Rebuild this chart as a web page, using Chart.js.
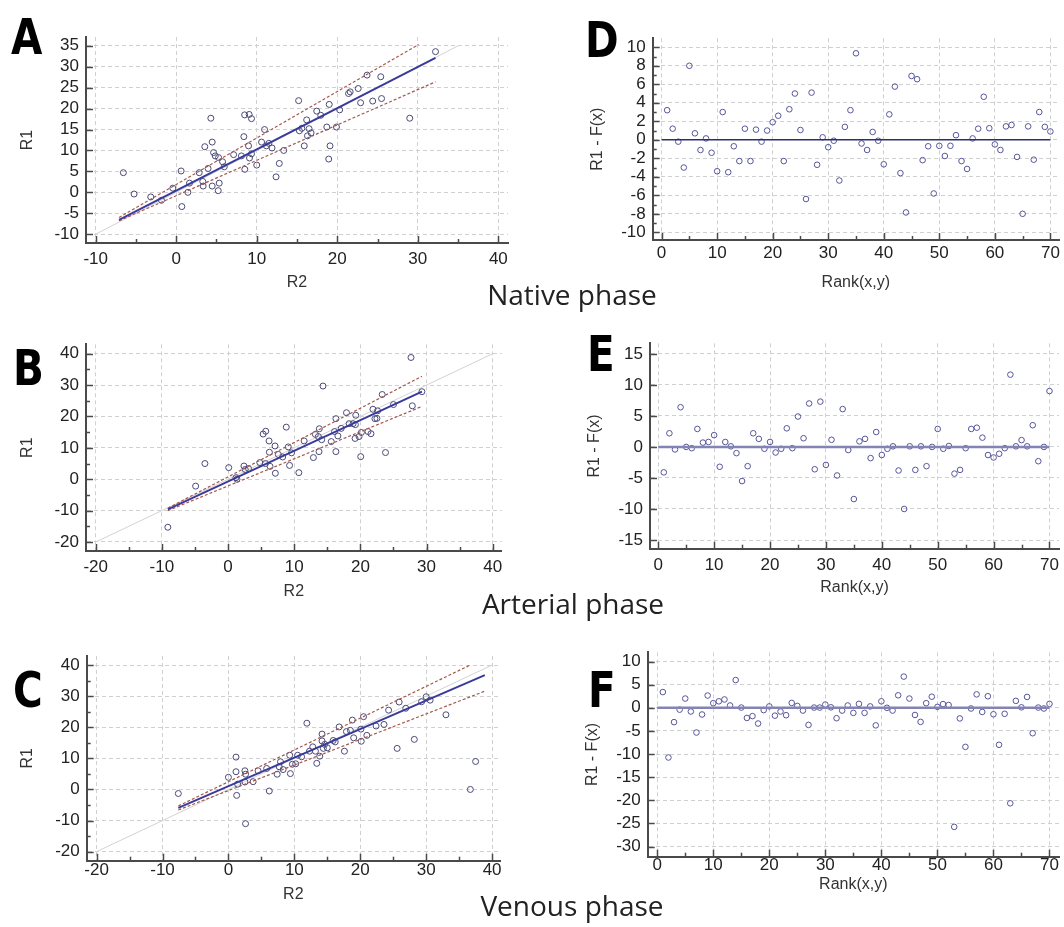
<!DOCTYPE html>
<html>
<head>
<meta charset="utf-8">
<script src="https://cdn.jsdelivr.net/npm/chart.js@4.4.1/dist/chart.umd.min.js"></script>
<style>
body { margin: 0; background: #fff; width: 1064px; height: 927px; position: relative; overflow: hidden; }
canvas { position: absolute; }
.tag { position: absolute; font-family: "DejaVu Sans Condensed", "Liberation Sans Narrow", sans-serif; font-weight: bold; font-size: 50px; line-height: 1; color: #000; transform: scaleX(0.9); transform-origin: left top; }
.phase { position: absolute; font-family: "Open Sans", sans-serif; font-size: 28px; color: #222; transform: translate(-50%, -50%); white-space: nowrap; }
</style>
</head>
<body>
<canvas id="cA"></canvas>
<canvas id="cD"></canvas>
<canvas id="cB"></canvas>
<canvas id="cE"></canvas>
<canvas id="cC"></canvas>
<canvas id="cF"></canvas>
<div class="tag" style="left:11px;top:12px">A</div>
<div class="tag" style="left:585px;top:15px">D</div>
<div class="tag" style="left:13px;top:343px">B</div>
<div class="tag" style="left:587px;top:329px">E</div>
<div class="tag" style="left:13px;top:665px">C</div>
<div class="tag" style="left:588px;top:665px">F</div>
<div class="phase" style="left:572px;top:294px">Native phase</div>
<div class="phase" style="left:573px;top:603px">Arterial phase</div>
<div class="phase" style="left:572px;top:905px">Venous phase</div>
<script>
// Native phase (A): R2 vs R1
const nativeR2 = [-6.56, -5.23, -3.16, -1.83, -0.42, 0.61, 0.7, 1.45, 1.65, 2.86, 3.3, 3.35, 3.55, 3.96, 4.3, 4.47, 4.47, 4.64, 4.85, 5.26,
  5.22, 5.34, 5.76, 5.97, 7.13, 8.1, 8.4, 8.5, 8.52, 8.98, 9.06, 9.1, 9.35, 9.35, 10.0, 10.6, 10.97, 11.2, 11.5, 11.9,
  12.4, 12.8, 13.35, 15.2, 15.3, 15.6, 15.9, 16.2, 16.3, 16.5, 16.75, 17.45, 17.95, 18.7, 18.94, 19.0, 19.1, 19.9, 20.3, 21.4,
  21.6, 22.6, 22.9, 23.7, 24.4, 25.4, 25.5, 29.0, 32.2];
const nativeR1 = [4.7, -0.4, -1.1, -1.9, 1.0, 5.1, -3.4, 0.0, 2.2, 4.7, 2.6, 1.5, 10.9, 5.7, 17.7, 12.0, 1.5, 9.5, 8.7, 8.3,
  0.4, 2.2, 7.3, 6.1, 9.0, 8.7, 13.3, 18.5, 5.5, 11.1, 18.6, 8.2, 17.6, 9.2, 6.5, 12.0, 15.0, 11.1, 11.7, 10.6,
  3.7, 6.9, 10.0, 21.9, 14.7, 15.3, 11.1, 17.3, 13.5, 15.2, 14.2, 19.4, 18.4, 15.6, 7.95, 21.0, 11.1, 15.6, 19.7, 23.6,
  24.0, 24.8, 21.4, 28.0, 21.8, 27.6, 22.4, 17.7, 33.6];
const nativeFitX = [-7.1, 32.2];
const nativeFitY = [-6.6, 32.1];
const nativeUpX = [-7.1, 30.1];
const nativeUpY = [-6.0, 35.3];
const nativeLoX = [-7.1, 32.2];
const nativeLoY = [-6.8, 26.4];
const nativeIdent = [-10, 35];

// Arterial phase (B)
const arterialR2 = [-9.1, -4.9, -3.5, 0.1, 1.2, 1.35, 2.4, 2.6, 3.1, 4.8, 5.3, 5.7, 5.65, 6.2, 6.25, 6.35, 7.1, 7.15, 7.6, 8.25,
  8.8, 9.1, 9.3, 9.6, 10.7, 11.5, 12.9, 13.2, 13.65, 13.75, 13.8, 14.15, 14.35, 15.6, 16.1, 16.3, 16.3, 16.6, 17.1, 17.9,
  18.3, 18.9, 19.3, 19.2, 19.25, 19.8, 20.05, 20.15, 21.15, 21.6, 21.9, 22.2, 22.6, 22.5, 23.3, 23.8, 25.0, 27.65, 27.85, 29.3];
const arterialR1 = [-15.3, -2.2, 5.0, 3.7, 0.5, 0, 4.2, 3.1, 3.4, 5.3, 14.4, 15.3, 5.0, 12.2, 8.6, 4.1, 10.6, 1.9, 7.9, 7.1,
  16.6, 10.3, 4.4, 8.4, 2.1, 12.2, 6.9, 14.3, 13.6, 8.8, 16.1, 12.6, 29.7, 12.0, 15.2, 19.3, 8.8, 13.8, 16.2, 21.2,
  17.7, 17.7, 20.4, 13.0, 17.4, 13.6, 7.2, 14.9, 15.2, 14.5, 22.3, 19.3, 21.8, 19.4, 27.0, 8.5, 23.8, 38.8, 23.4, 27.9];
const arterialFitX = [-9.1, 29.3];
const arterialFitY = [-9.6, 27.9];
const arterialUpX = [-9.1, 29.3];
const arterialUpY = [-9.2, 32.8];
const arterialLoX = [-9.1, 29.3];
const arterialLoY = [-10.0, 23.2];
const arterialIdent = [-20, 40];

// Venous phase (C)
const venousR2 = [-7.6, 0, 1.15, 1.15, 1.25, 1.4, 2.5, 2.6, 2.5, 2.6, 3.75, 4.5, 5.8, 6.2, 7.4, 7.7, 7.9, 8.3, 9.3, 9.4,
  9.7, 10.2, 10.5, 11.1, 11.9, 12.3, 12.8, 13.2, 13.4, 13.85, 14.2, 14.2, 14.4, 14.6, 15.0, 15.9, 16.2, 16.8, 17.6, 17.9,
  18.5, 18.8, 19.0, 20.1, 20.15, 20.5, 21.0, 22.4, 23.6, 24.3, 25.6, 25.9, 26.9, 28.2, 29.3, 30.0, 30.6, 33.0, 36.7, 37.5];
const venousR1 = [-1.3, 3.9, 10.4, 5.7, -1.9, 1.7, 6.0, -11.0, 2.4, 4.9, 2.5, 6.0, 6.75, -0.5, 4.9, 7.3, 8.9, 6.4, 11.0, 5.1,
  8.1, 8.25, 11.0, 10.5, 21.3, 12.3, 13.7, 12.3, 8.4, 10.7, 17.8, 15.6, 13.2, 14.5, 13.4, 15.75, 15.3, 20.1, 12.3, 18.6,
  19.0, 22.3, 16.6, 19.4, 15.5, 23.4, 17.4, 20.4, 20.9, 25.5, 13.2, 28.1, 26.1, 16.1, 28.2, 29.8, 28.7, 24.0, 0.0, 9.0];
const venousFitX = [-7.6, 38.9];
const venousFitY = [-5.9, 36.75];
const venousUpX = [-7.6, 36.7];
const venousUpY = [-5.3, 40.0];
const venousLoX = [-7.6, 38.9];
const venousLoY = [-6.6, 31.6];
const venousIdent = [-20, 40];

// Residuals R1 - F(x) by rank (D, E, F)
const ranks = Array.from({ length: 70 }, (_, i) => i + 1);
const nativeRes = [3.2, 1.2, -0.2, -3.0, 8.0, 0.7, -1.1, 0.15, -1.4, -3.4,
  3.0, -3.5, -0.7, -2.3, 1.2, -2.3, 1.1, -0.2, 1.0, 1.9,
  2.6, -2.3, 3.3, 5.0, 1.06, -6.4, 5.1, -2.7, 0.27, -0.8,
  -0.1, -4.4, 1.4, 3.2, 9.35, -0.4, -1.1, 0.85, -0.1, -2.65,
  2.75, 5.75, -3.6, -7.85, 6.9, 6.55, -2.2, -0.7, -5.8, -0.65,
  -1.75, -0.65, 0.5, -2.3, -3.15, 0.15, 1.2, 4.65, 1.25, -0.5,
  -1.1, 1.45, 1.6, -1.85, -8.0, 1.45, -2.15, 3.0, 1.4, 0.9];
const arterialRes = [-4.1, 2.2, -0.4, 6.4, 0.0, -0.2, 2.9, 0.7, 0.8, 1.9,
  -3.2, 0.8, 0.1, -1.0, -5.5, -3.1, 2.2, 1.3, -0.3, 0.8,
  -0.9, -0.3, 3.0, -0.2, 4.9, 1.4, 7.0, -3.6, 7.3, -2.9,
  1.15, -4.6, 6.1, -0.5, -8.4, 0.9, 1.3, -1.8, 2.4, -1.3,
  -0.3, 0.1, -3.8, -10.0, 0.1, -3.7, 0.1, -3.1, 0.0, 2.9,
  -0.3, 0.15, -4.3, -3.7, -0.2, 2.9, 3.1, 1.5, -1.3, -1.7,
  -1.1, -0.2, 11.65, 0.1, 1.1, 0.1, 3.5, -2.3, 0.0, 9.0];
const venousRes = [3.4, -10.75, -3.1, -0.4, 2.0, -0.8, -5.35, -1.45, 2.65, 1.0,
  1.4, 1.8, 0.5, 6.0, 0.05, -2.2, -1.8, -3.4, -0.5, 0.3,
  -1.7, -0.8, -1.6, 1.05, 0.4, -0.6, -3.7, 0.05, 0.05, 0.7,
  0.1, -2.25, -0.6, 0.5, -1.1, 0.85, -1.1, 0.3, -3.8, 1.4,
  0, -0.6, 2.7, 6.75, 2.0, -1.55, -3.05, 1.0, 2.4, 0.2,
  0.8, 0.6, -25.75, -2.3, -8.45, -0.15, 2.9, -0.9, 2.5, -1.4,
  -8.0, -1.3, -20.65, 1.5, 0.1, 2.35, -5.5, 0.05, -0.15, 0.85];
const zeroLineX = [0, 70];

const FONT = '"Liberation Sans", Arial, sans-serif';
const TITLE_SIZE = 16;
const TITLE_HALF = TITLE_SIZE * 1.2 / 2;

function isMajor(v, major) {
  const r = v / major;
  return Math.abs(r - Math.round(r)) < 1e-6;
}

// small tick marks pointing into the plot, like the original software
const innerTicks = {
  id: 'innerTicks',
  afterDraw(chart, args, opts) {
    const ctx = chart.ctx;
    const a = chart.chartArea;
    ctx.save();
    ctx.strokeStyle = '#4a4a4a';
    ctx.lineWidth = 1.5;
    ['x', 'y'].forEach(k => {
      const s = chart.scales[k];
      s.ticks.forEach(t => {
        const len = isMajor(t.value, opts[k]) ? 7 : 4;
        const p = Math.round(s.getPixelForValue(t.value)) + 0.5;
        ctx.beginPath();
        if (k === 'x') {
          ctx.moveTo(p, a.bottom);
          ctx.lineTo(p, a.bottom - len);
        } else {
          ctx.moveTo(a.left, p);
          ctx.lineTo(a.left + len, p);
        }
        ctx.stroke();
      });
    });
    ctx.restore();
  }
};
Chart.register(innerTicks);

function axis(range, step, major, size, isX, title, pad) {
  return {
    type: 'linear',
    min: range[0],
    max: range[1],
    afterFit: s => {
      if (isX) s.height = size; else s.width = size;
      s.paddingLeft = 0; s.paddingRight = 0; s.paddingTop = 0; s.paddingBottom = 0;
    },
    ticks: {
      stepSize: step,
      includeBounds: false,
      autoSkip: false,
      maxRotation: 0,
      minRotation: 0,
      padding: pad,
      color: '#222',
      font: { family: FONT, size: 17 },
      callback: v => isMajor(v, major) ? v : ''
    },
    grid: {
      drawTicks: false,
      lineWidth: 1,
      color: c => (c.tick && isMajor(c.tick.value, major)) ? '#d0d0d0' : 'rgba(0,0,0,0)'
    },
    border: { color: '#4a4a4a', width: 2, dash: [4, 3] },
    title: { display: true, text: title, color: '#333', font: { family: FONT, size: TITLE_SIZE }, padding: 0 }
  };
}

const pts = (xs, ys) => xs.map((x, i) => ({ x, y: ys[i] }));

function line(xs, ys, color, width, dash) {
  return {
    data: pts(xs, ys), showLine: true, pointRadius: 0, borderColor: color,
    borderWidth: width, borderDash: dash || [], fill: false
  };
}

function dots(xs, ys, color, r) {
  return {
    data: pts(xs, ys), showLine: false, pointRadius: r, pointBorderWidth: 1,
    pointBorderColor: color, pointBackgroundColor: 'rgba(255,255,255,0)'
  };
}

function panel(id, box, area, yTitleX, xTitleY, xAxis, yAxis, ticksMajor, datasets) {
  const cv = document.getElementById(id);
  cv.width = box.w;
  cv.height = box.h;
  cv.style.left = box.x + 'px';
  cv.style.top = box.y + 'px';
  const padLeft = yTitleX - TITLE_HALF - box.x;
  const padBottom = box.y + box.h - xTitleY - TITLE_HALF;
  const padTop = area.t - box.y;
  const padRight = box.x + box.w - area.r;
  const yWidth = area.l - box.x - padLeft;
  const xHeight = box.y + box.h - padBottom - area.b;
  new Chart(cv, {
    type: 'scatter',
    data: { datasets },
    options: {
      responsive: false,
      animation: false,
      devicePixelRatio: 1,
      layout: { padding: { left: padLeft, right: padRight, top: padTop, bottom: padBottom } },
      scales: {
        x: axis(xAxis.range, xAxis.step, xAxis.major, xHeight, true, xAxis.title, xAxis.pad),
        y: axis(yAxis.range, yAxis.step, yAxis.major, yWidth, false, yAxis.title, 7)
      },
      plugins: {
        legend: { display: false },
        tooltip: { enabled: false },
        innerTicks: ticksMajor
      }
    }
  });
}

const FIT = '#3a3a9c';
const CI = '#a4584c';
const IDENT = '#d2d2d2';
const DOT = '#4a4a78';
const RDOT = '#55559a';

function scatterSets(r2, r1, fx, fy, ux, uy, lx, ly, ident) {
  return [
    line(fx, fy, FIT, 2),
    line(ux, uy, CI, 1.2, [3, 2]),
    line(lx, ly, CI, 1.2, [3, 2]),
    dots(r2, r1, DOT, 3),
    line(ident, ident, IDENT, 1)
  ];
}

// A
panel('cA', { x: 10, y: 28, w: 510, h: 272 }, { l: 86, t: 37, r: 508, b: 243 }, 28, 283,
  { range: [-11.2, 41.2], step: 5, major: 10, title: 'R2', pad: 6 },
  { range: [-12.1, 37.1], step: 5, major: 5, title: 'R1' },
  { x: 10, y: 5 },
  scatterSets(nativeR2, nativeR1, nativeFitX, nativeFitY, nativeUpX, nativeUpY, nativeLoX, nativeLoY, nativeIdent));

// B
panel('cB', { x: 10, y: 330, w: 510, h: 275 }, { l: 86, t: 344.3, r: 501.7, b: 551 }, 28, 592,
  { range: [-21.47, 41.36], step: 5, major: 10, title: 'R2', pad: 6 },
  { range: [-22.87, 43], step: 5, major: 10, title: 'R1' },
  { x: 10, y: 10 },
  scatterSets(arterialR2, arterialR1, arterialFitX, arterialFitY, arterialUpX, arterialUpY, arterialLoX, arterialLoY, arterialIdent));

// C
panel('cC', { x: 10, y: 640, w: 510, h: 275 }, { l: 86.7, t: 656, r: 500, b: 860.7 }, 28, 895,
  { range: [-21.5, 41.2], step: 5, major: 10, title: 'R2', pad: -1 },
  { range: [-22.9, 42.9], step: 5, major: 10, title: 'R1' },
  { x: 10, y: 10 },
  scatterSets(venousR2, venousR1, venousFitX, venousFitY, venousUpX, venousUpY, venousLoX, venousLoY, venousIdent));

// D
panel('cD', { x: 575, y: 28, w: 489, h: 272 }, { l: 652.7, t: 38.3, r: 1063, b: 240 }, 598, 283,
  { range: [-1.6, 71.55], step: 5, major: 10, title: 'Rank(x,y)', pad: 3 },
  { range: [-10.83, 10.97], step: 1, major: 2, title: 'R1 - F(x)' },
  { x: 10, y: 2 },
  [line(zeroLineX, [0, 0], '#2e2e6e', 1.5), dots(ranks, nativeRes, RDOT, 2.8)]);

// E
panel('cE', { x: 575, y: 330, w: 489, h: 275 }, { l: 650, t: 343.3, r: 1062.3, b: 548.7 }, 595, 588,
  { range: [-1.47, 71.7], step: 5, major: 10, title: 'Rank(x,y)', pad: 6 },
  { range: [-16.4, 16.7], step: 5, major: 5, title: 'R1 - F(x)' },
  { x: 10, y: 5 },
  [line(zeroLineX, [0, 0], '#8484b4', 2.5), dots(ranks, arterialRes, RDOT, 2.8)]);

// F
panel('cF', { x: 575, y: 640, w: 489, h: 275 }, { l: 647.7, t: 652.3, r: 1062.3, b: 856.7 }, 593, 885,
  { range: [-1.7, 71.7], step: 5, major: 10, title: 'Rank(x,y)', pad: -2 },
  { range: [-32.2, 12], step: 5, major: 5, title: 'R1 - F(x)' },
  { x: 10, y: 5 },
  [line(zeroLineX, [0, 0], '#8484b4', 2.5), dots(ranks, venousRes, RDOT, 2.8)]);
</script>
</body>
</html>
